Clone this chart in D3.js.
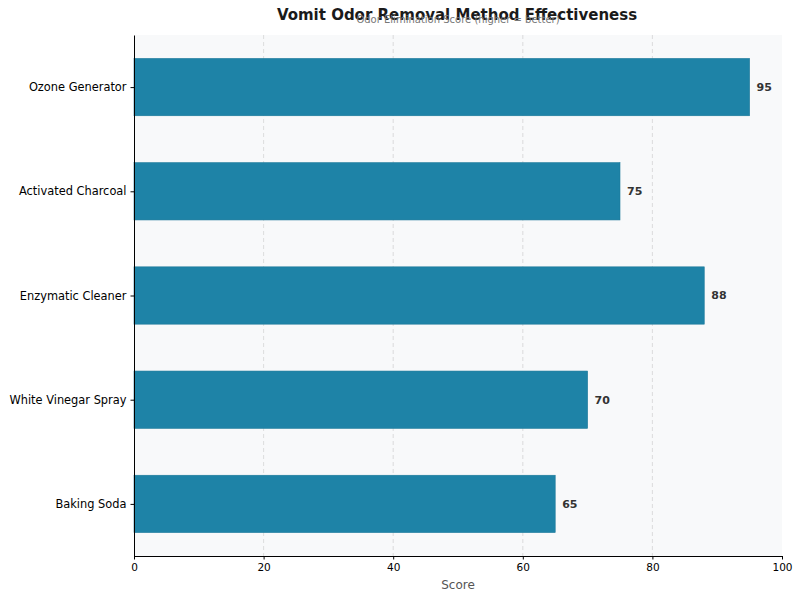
<!DOCTYPE html>
<html>
<head>
<meta charset="utf-8">
<script src="https://cdn.jsdelivr.net/npm/d3@7"></script>
<style>
  body { margin: 0; background: #fff; }
  text { font-family: "DejaVu Sans", sans-serif; }
</style>
</head>
<body>
<div id="chart-area"></div>
<script>
// data
const methods = ["Ozone Generator", "Activated Charcoal", "Enzymatic Cleaner", "White Vinegar Spray", "Baking Soda"]
const scores = [95, 75, 88, 70, 65]
const xTicks = [0, 20, 40, 60, 80, 100]

const margin = {top: 35, right: 18, bottom: 44, left: 134},
      width = 800 - margin.left - margin.right,
      height = 600 - margin.top - margin.bottom

const svg = d3.select("#chart-area")
  .append("svg")
    .attr("width", 800)
    .attr("height", 600)

const g = svg.append("g")
  .attr("transform", `translate(${margin.left},${margin.top})`)

// plot background
g.append("rect")
  .attr("width", width)
  .attr("height", height)
  .attr("fill", "#f8f9fa")

const x = d3.scaleLinear().domain([0, 100]).range([0, width])

// y: categories at integer positions, limits -0.5 .. n-0.5
const y = d3.scaleLinear().domain([-0.5, methods.length - 0.5]).range([0, height])
const step = y(1) - y(0)
const barH = step * 0.55

// grid (interior ticks only)
g.append("g")
  .selectAll("line")
  .data(xTicks.slice(1, -1))
  .join("line")
    .attr("x1", d => x(d)).attr("x2", d => x(d))
    .attr("y1", 0).attr("y2", height)
    .attr("stroke", "#d4d4d4")
    .attr("stroke-width", 0.8)
    .attr("stroke-dasharray", "4,3")

// bars
g.selectAll(".bar")
  .data(methods)
  .join("rect")
    .attr("class", "bar")
    .attr("x", x(0))
    .attr("y", (d, i) => y(i) - barH / 2)
    .attr("width", (d, i) => x(scores[i]) - x(0))
    .attr("height", barH)
    .attr("fill", "#1e83a7")
    .attr("stroke", "#1b7899")
    .attr("stroke-width", 0.6)

// value labels
g.selectAll(".val")
  .data(methods)
  .join("text")
    .attr("class", "val")
    .attr("x", (d, i) => x(scores[i]) + 7)
    .attr("y", (d, i) => y(i))
    .attr("dy", "0.35em")
    .attr("font-size", 11)
    .attr("font-weight", "bold")
    .attr("fill", "#333")
    .text((d, i) => scores[i])

// x axis
const xAxis = g.append("g")
  .attr("transform", `translate(0,${height})`)
  .call(d3.axisBottom(x).tickValues(xTicks).tickSize(3.5).tickSizeOuter(0).tickPadding(4))
xAxis.select(".domain").attr("stroke", "#000").attr("stroke-width", 1)
xAxis.selectAll("text").attr("font-size", 10.5).attr("fill", "#000").attr("font-family", "DejaVu Sans")

// y axis
const yAxis = g.append("g")
  .call(d3.axisLeft(y).tickValues(d3.range(methods.length)).tickFormat(i => methods[i]).tickSize(3.5).tickSizeOuter(0).tickPadding(4))
yAxis.select(".domain").attr("stroke", "#000").attr("stroke-width", 1)
yAxis.selectAll("text").attr("font-size", 11.4).attr("fill", "#000").attr("font-family", "DejaVu Sans")

// x label
svg.append("text")
  .attr("x", margin.left + width / 2)
  .attr("y", 589)
  .attr("text-anchor", "middle")
  .attr("font-size", 12)
  .attr("fill", "#555")
  .text("Score")

// title + subtitle
svg.append("text")
  .attr("x", margin.left + width / 2 - 1)
  .attr("y", 20)
  .attr("text-anchor", "middle")
  .attr("font-size", 15)
  .attr("font-weight", "bold")
  .attr("fill", "#1a1a1a")
  .text("Vomit Odor Removal Method Effectiveness")

svg.append("text")
  .attr("x", margin.left + width / 2)
  .attr("y", 23)
  .attr("text-anchor", "middle")
  .attr("font-size", 10)
  .attr("fill", "#777")
  .text("Odor Elimination Score (higher = better)")
</script>
</body>
</html>
